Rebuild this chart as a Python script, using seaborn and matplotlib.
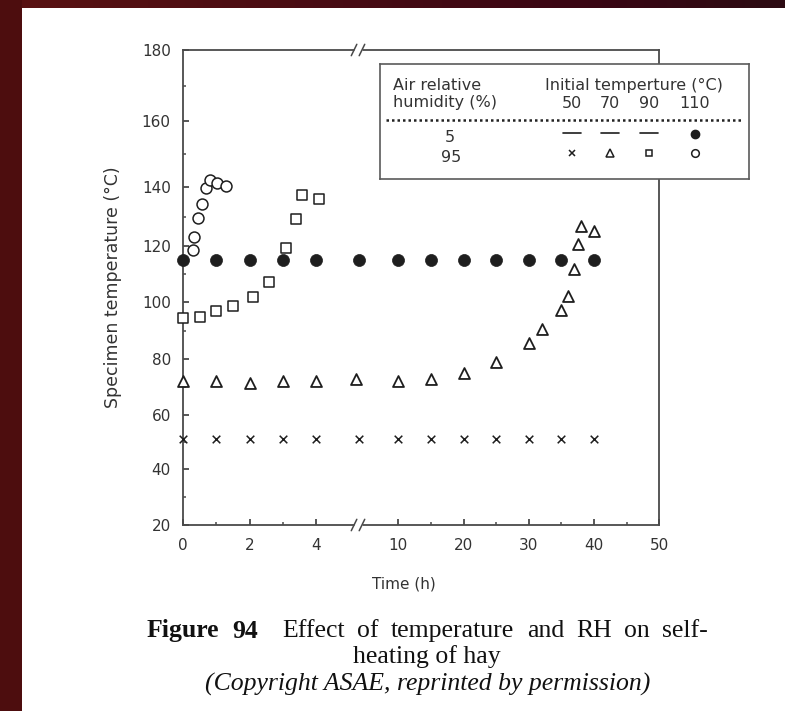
import numpy as np
import pandas as pd
import matplotlib
matplotlib.use("Agg")
import matplotlib.pyplot as plt
import seaborn as sns
from matplotlib.patches import Rectangle

# ---------------------------------------------------------------- data
# Air RH 95 %, initial temperature 50 °C
time_rh95_t50 = [0, 1, 2, 3, 4, 6, 10, 15, 20, 25, 30, 35, 40]
temp_rh95_t50 = [51, 51, 51, 51, 51, 51, 51, 51, 51, 51, 51, 51, 51]

# Air RH 95 %, initial temperature 70 °C
time_rh95_t70 = [0, 1, 2, 3, 4, 5.7, 10, 15, 20, 25, 30, 32, 35, 36, 37, 37.5, 38, 40]
temp_rh95_t70 = [72, 72, 71.5, 72, 72.2, 72.7, 72.2, 72.9, 75.1, 79, 85.7, 90.6,
                 97.2, 102.1, 111.7, 120.7, 126.9, 125.2]

# Air RH 95 %, initial temperature 90 °C
time_rh95_t90 = [0, 0.5, 1, 1.5, 2.1, 2.6, 3.1, 3.4, 3.6, 4.1]
temp_rh95_t90 = [94.3, 94.8, 96.9, 98.6, 101.7, 107.3, 119.2, 129.1, 137.3, 135.9]

# Air RH 95 %, initial temperature 110 °C
time_rh95_t110 = [0.28, 0.33, 0.43, 0.57, 0.69, 0.81, 1.03, 1.29]
temp_rh95_t110 = [118.6, 123.2, 129.4, 134.2, 139.6, 142.1, 141.1, 140.3]

# Air RH 5 %, initial temperature 110 °C
time_rh5_t110 = [0, 1, 2, 3, 4, 6, 10, 15, 20, 25, 30, 35, 40]
temp_rh5_t110 = [115, 115, 115, 115, 115, 115, 115, 115, 115, 115, 115, 115, 115]

x_major = [0, 2, 4, 10, 20, 30, 40, 50]
x_minor = [1, 3, 15, 25, 35, 45]
y_major = [20, 40, 60, 80, 100, 120, 140, 160, 180]
y_minor = [30, 50, 70, 90, 110, 130, 150, 170]

legend_temps = ["50", "70", "90", "110"]
legend_rh = ["5", "95"]

frames = []
for name, t, v in [("rh95_t50", time_rh95_t50, temp_rh95_t50),
                   ("rh95_t70", time_rh95_t70, temp_rh95_t70),
                   ("rh95_t90", time_rh95_t90, temp_rh95_t90),
                   ("rh95_t110", time_rh95_t110, temp_rh95_t110),
                   ("rh5_t110", time_rh5_t110, temp_rh5_t110)]:
    frames.append(pd.DataFrame({"time": t, "temp": v, "series": name}))
df = pd.concat(frames, ignore_index=True)

# ---------------------------------------------------------------- styling
sns.set_style("ticks")
plt.rcParams["font.family"] = ["DejaVu Sans"]
INK = "#1e1e1e"
TXT = "#333333"
SPINE = "#4a4a4a"

W, H = 785, 711
fig = plt.figure(figsize=(W / 100, H / 100), dpi=100)
fig.patch.set_facecolor("white")


def px_rect(x0, y0, x1, y1):
    """Pixel box (origin top-left) -> figure-fraction rectangle."""
    return [x0 / W, 1 - y1 / H, (x1 - x0) / W, (y1 - y0) / H]


# dark page surround
bg = fig.add_axes([0, 0, 1, 1], zorder=-10)
bg.set_axis_off()
bg.set_xlim(0, W)
bg.set_ylim(H, 0)
c_left = np.array([0x5a, 0x12, 0x12]) / 255
c_mid = np.array([0x3a, 0x06, 0x14]) / 255
c_right = np.array([0x2c, 0x0b, 0x12]) / 255
s = np.linspace(0, 1, 300)[:, None]
grad = np.where(s < 0.75, c_left + (c_mid - c_left) * (s / 0.75),
                c_mid + (c_right - c_mid) * ((s - 0.75) / 0.25))
bg.imshow(grad[None, :, :], extent=(0, W, 8, 0), aspect="auto")
bg.add_patch(Rectangle((0, 0), 22, H, color="#4d0d0e", lw=0))


# piecewise axis scales (broken time axis, uneven temperature spacing)
def piecewise(v, xs, ys):
    v = np.asarray(v, dtype=float)
    out = np.interp(v, xs, ys)
    lo_slope = (ys[1] - ys[0]) / (xs[1] - xs[0])
    hi_slope = (ys[-1] - ys[-2]) / (xs[-1] - xs[-2])
    out = np.where(v < xs[0], ys[0] + (v - xs[0]) * lo_slope, out)
    out = np.where(v > xs[-1], ys[-1] + (v - xs[-1]) * hi_slope, out)
    return out


T_NODES = [0, 5, 10, 50]
T_PIX = [0, 165.5, 215, 476]
Y_NODES = [20, 40, 60, 80, 100, 120, 140, 160, 180]
Y_PIX = [0, 56, 110, 166, 223, 279, 338, 404, 475]

ax = fig.add_axes(px_rect(183.3, 50, 659.3, 525))
ax.set_xscale("function", functions=(lambda v: piecewise(v, T_NODES, T_PIX),
                                     lambda p: piecewise(p, T_PIX, T_NODES)))
ax.set_yscale("function", functions=(lambda v: piecewise(v, Y_NODES, Y_PIX),
                                     lambda p: piecewise(p, Y_PIX, Y_NODES)))

styles = {
    "rh95_t50": dict(marker="x", s=30, color=INK, linewidth=1.1),
    "rh95_t70": dict(marker="^", s=62, facecolor="white", edgecolor=INK, linewidth=1.3),
    "rh95_t90": dict(marker="s", s=50, facecolor="white", edgecolor=INK, linewidth=1.1),
    "rh95_t110": dict(marker="o", s=62, facecolor="white", edgecolor=INK, linewidth=1.1),
    "rh5_t110": dict(marker="o", s=75, color=INK, edgecolor=INK, linewidth=0.5),
}
for name, kw in styles.items():
    sns.scatterplot(data=df[df["series"] == name], x="time", y="temp", ax=ax,
                    legend=False, clip_on=False, zorder=4, **kw)

ax.set_xlim(0, 50)
ax.set_ylim(20, 180)
ax.set_xticks(x_major, labels=x_major)
ax.set_xticks(x_minor, minor=True)
ax.set_yticks(y_major, labels=y_major)
ax.set_yticks(y_minor, minor=True)
ax.tick_params(which="both", direction="in", colors=SPINE, labelcolor=TXT,
               labelsize=11, top=False, right=False)
ax.tick_params(which="major", length=4.5, width=1.3, pad=9)
ax.tick_params(which="minor", length=2.5, width=1.1)
for sp in ax.spines.values():
    sp.set_color(SPINE)
    sp.set_linewidth(1.3)

ax.set_xlabel("Time (h)", fontsize=11, color=TXT)
ax.xaxis.label.set_va("center")
ax.xaxis.set_label_coords(0.4636, -0.124)
ax.set_ylabel("Specimen temperature (°C)", fontsize=12.5, color=TXT)
ax.yaxis.label.set_va("center")
ax.yaxis.set_label_coords(-0.148, 0.50)

# axis break marks on top and bottom spines
brk = [5.53, 6.33]
xt = ax.get_xaxis_transform()
for yy in (0, 1):
    ax.plot(brk, [yy, yy], transform=xt, color="white", lw=3.5,
            clip_on=False, zorder=6, solid_capstyle="butt")
    for b in brk:
        ax.plot([b - 0.28, b + 0.28], [yy - 0.012, yy + 0.012], transform=xt,
                color=SPINE, lw=1.1, clip_on=False, zorder=7)

# ---------------------------------------------------------------- key table
lg = fig.add_axes(px_rect(380, 64, 749, 179), zorder=8)
lg.set_xlim(380, 749)
lg.set_ylim(179, 64)
lg.set_xticks([])
lg.set_yticks([])
lg.set_facecolor("white")
for sp in lg.spines.values():
    sp.set_color("#5a5a5a")
    sp.set_linewidth(1.2)

fs = 11.5
lg.text(393, 85, "Air relative", fontsize=fs, color=TXT, va="center", ha="left")
lg.text(393, 102, "humidity (%)", fontsize=fs, color=TXT, va="center", ha="left")
lg.text(634, 85, "Initial temperture (°C)", fontsize=fs, color=TXT,
        va="center", ha="center")
col_x = [572, 610, 649, 695]
for cx, lab in zip(col_x, legend_temps):
    lg.text(cx, 103, lab, fontsize=fs, color=TXT, va="center", ha="center")
lg.plot([386, 741], [120, 120], ls=(0, (1, 1.2)), color="#222222", lw=1.8)
lg.text(450, 137, legend_rh[0], fontsize=fs, color=TXT, va="center", ha="center")
lg.text(451, 157, legend_rh[1], fontsize=fs, color=TXT, va="center", ha="center")

for cx in col_x[:3]:
    lg.plot([cx - 9, cx + 9], [133, 133], color=INK, lw=1.2)
lg.plot([col_x[3]], [134], marker="o", ms=6, mfc=INK, mec=INK, ls="none")
row95 = [("x", 4.5, INK), ("^", 5.5, "white"), ("s", 5.0, "white"), ("o", 5.5, "white")]
for cx, (mk, ms, fc) in zip(col_x, row95):
    lg.plot([cx], [153], marker=mk, ms=ms, mfc=fc, mec=INK, mew=1.1, ls="none")

# ---------------------------------------------------------------- caption
serif = "Liberation Serif"
cap_fs = 18.5
cap_color = "#111111"

# first caption line is set justified between two margins
line1 = [("Figure", "bold"), ("94", "bold"), ("Effect", "normal"), ("of", "normal"),
         ("temperature", "normal"), ("and", "normal"), ("RH", "normal"),
         ("on", "normal"), ("self-", "normal")]
left_px, right_px = 147, 708
y1 = 1 - 631 / H
words = [fig.text(0, y1, w, fontsize=cap_fs, family=serif, weight=wt,
                  color=cap_color, va="center", ha="left") for w, wt in line1]
fig.canvas.draw()
r = fig.canvas.get_renderer()
widths = [t.get_window_extent(r).width for t in words]
gap_units = [1, 2, 1, 1, 1, 1, 1, 1]          # double space after the figure number
unit = (right_px - left_px - sum(widths)) / sum(gap_units)
xpos = left_px
for i, t in enumerate(words):
    t.set_x(xpos / W)
    xpos += widths[i] + (gap_units[i] * unit if i < len(gap_units) else 0)

fig.text(427 / W, 1 - 657 / H, "heating of hay", fontsize=cap_fs, family=serif,
         color=cap_color, va="center", ha="center")
fig.text(428 / W, 1 - 684 / H, "(Copyright ASAE, reprinted by permission)",
         fontsize=cap_fs, family=serif, style="italic", color=cap_color,
         va="center", ha="center")

fig.savefig("out.png", dpi=100)
